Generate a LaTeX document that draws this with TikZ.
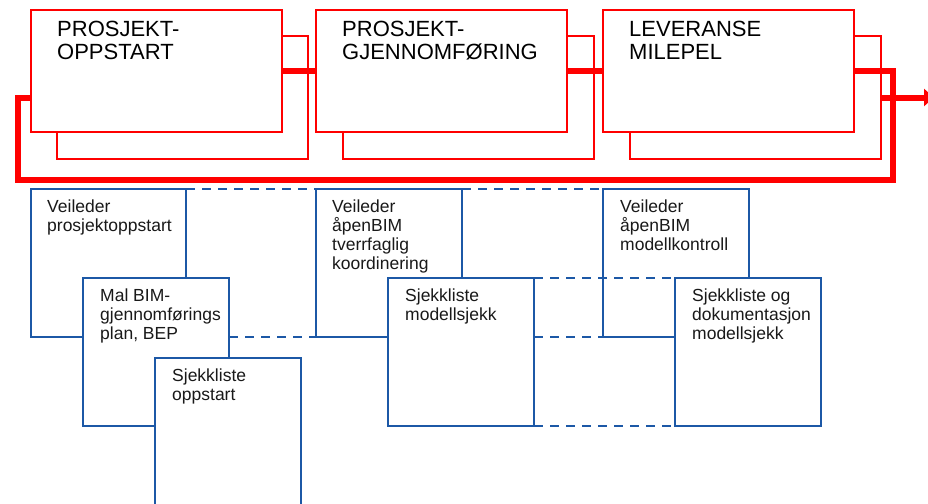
\documentclass[tikz,border=0pt]{standalone}
\usepackage{fontspec}
\setmainfont{Liberation Sans}
\usetikzlibrary{arrows.meta, positioning}

\definecolor{phasered}{RGB}{255,0,0}
\definecolor{docblue}{RGB}{28,88,166}

\tikzset{
  phase/.style={draw=phasered, line width=2pt, fill=white, anchor=north west,
    inner sep=0pt, outer sep=0pt, minimum width=251pt, minimum height=122pt},
  phaseback/.style={draw=phasered, line width=1.3pt, anchor=north west,
    inner sep=0pt, outer sep=0pt, minimum width=251pt, minimum height=123pt},
  phasetext/.style={anchor=north west, align=left, inner sep=0pt,
    font=\fontsize{22}{23}\selectfont},
  doc/.style={draw=docblue, line width=2pt, fill=white, anchor=north west,
    inner sep=0pt, outer sep=0pt, minimum width=146pt, minimum height=148pt},
  doctext/.style={anchor=north west, align=left, inner sep=0pt, text=black!90,
    font=\fontsize{17.5}{19}\selectfont},
  flow/.style={draw=phasered, line width=6pt},
  gap/.style={draw=docblue, line width=2pt, dash pattern=on 9pt off 7pt},
}

\begin{document}
\begin{tikzpicture}[x=1pt, y=-1pt]

    % Page frame (pixel grid, y pointing down)
    \useasboundingbox (0,0) rectangle (928,503);
    \clip (0,0) rectangle (928,503);

    % 1. Shadow boxes behind the phases
    \node[phaseback] (p1b) at (57,36) {};
    \node[phaseback] (p2b) at (343,36) {};
    \node[phaseback] (p3b) at (630,36) {};

    % 2. The three phases
    \node[phase] (p1) at (31,10) {};
    \node[phasetext, below right=10.5pt and 26pt of p1.north west] (p1t) {PROSJEKT-\\OPPSTART};
    \node[phase] (p2) at (316,10) {};
    \node[phasetext, below right=10.5pt and 26pt of p2.north west] (p2t) {PROSJEKT-\\GJENNOMFØRING};
    \node[phase] (p3) at (603,10) {};
    \node[phasetext, below right=10.5pt and 26pt of p3.north west] (p3t) {LEVERANSE\\MILEPEL};

    % 3. Flow line with the return loop and the exit arrow
    \coordinate (loopR) at ([xshift=39pt]p3.east);
    \coordinate (loopL) at (18,180);
    \coordinate (exit) at (934,97.5);
    \draw[flow] (p1.east) -- (p2.west);
    \draw[flow] (p2.east) -- (p3.west);
    \draw[flow] (p3.east) -- (loopR) |- (loopL) |- (p1.west |- p1b.center);
    \draw[flow, -{Triangle[length=10pt, width=17pt]}] (p3b.east) -- (exit);

    % 4. Documents under each phase
    \node[doc, minimum width=155pt] (v1) at (31,189) {};
    \node[doctext, below right=10.5pt and 16pt of v1.north west] (v1t) {Veileder\\prosjektoppstart};
    \node[doc] (mal) at (83,278) {};
    \node[doctext, below right=10.5pt and 17pt of mal.north west] (malt) {Mal BIM-\\gjennomførings\\plan, BEP};
    \node[doc] (s1) at (155,358) {};
    \node[doctext, below right=10.5pt and 17pt of s1.north west] (s1t) {Sjekkliste\\oppstart};

    \node[doc] (v2) at (316,189) {};
    \node[doctext, below right=10.5pt and 16pt of v2.north west] (v2t) {Veileder\\åpenBIM\\tverrfaglig\\koordinering};
    \node[doc] (s2) at (388,278) {};
    \node[doctext, below right=10.5pt and 17pt of s2.north west] (s2t) {Sjekkliste\\modellsjekk};

    \node[doc] (v3) at (603,189) {};
    \node[doctext, below right=10.5pt and 17pt of v3.north west] (v3t) {Veileder\\åpenBIM\\modellkontroll};
    \node[doc] (s3) at (675,278) {};
    \node[doctext, below right=10.5pt and 17pt of s3.north west] (s3t) {Sjekkliste og\\dokumentasjon\\modellsjekk};

    % 5. Dashed links between the document columns
    \draw[gap] (v1.north east) -- (v2.north west);
    \draw[gap] (v2.north east) -- (v3.north west);
    \draw[gap] (mal.east |- v1.south) -- (v2.south west);
    \draw[gap] (s2.north east) -- (s3.north west);
    \draw[gap] (s2.east |- v3.south) -- (v3.south west);
    \draw[gap] (s2.south east) -- (s3.south west);
\end{tikzpicture}
\end{document}
